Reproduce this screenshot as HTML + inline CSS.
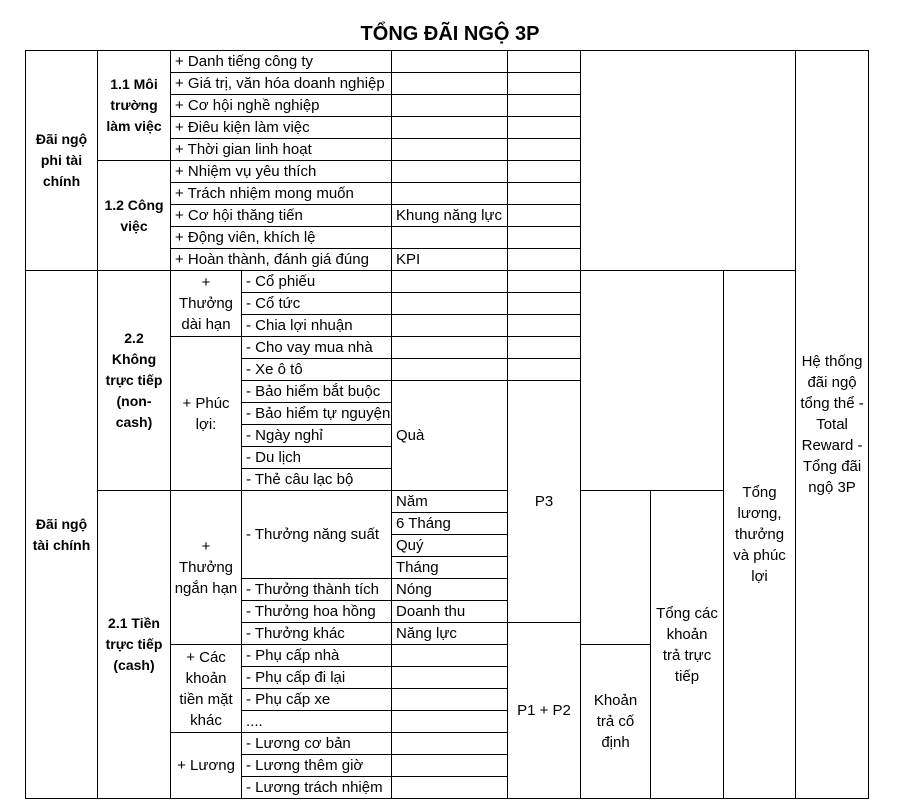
<!DOCTYPE html>
<html><head><meta charset="utf-8"><style>
body{margin:0;background:#fff;width:900px;height:812px;overflow:hidden;font-family:"Liberation Sans",sans-serif;}
h1{position:absolute;left:0;width:900px;top:21px;margin:0;text-align:center;font-size:20px;font-weight:bold;line-height:26px;}
table{position:absolute;left:25px;top:50px;border-collapse:collapse;table-layout:fixed;width:843px;font-size:15px;}
tr{height:22px;}
td{border:1px solid #000;padding:0 0 0 4px;height:21px;line-height:21px;white-space:nowrap;overflow:hidden;vertical-align:middle;}
td.c{text-align:center;padding:0;white-space:normal;line-height:21px;height:auto;}
td.b{font-weight:bold;font-size:14px;}
</style></head><body>
<h1>TỔNG ĐÃI NGỘ 3P</h1>
<table>
<colgroup><col style="width:72px"><col style="width:73px"><col style="width:71px"><col style="width:150px"><col style="width:116px"><col style="width:73px"><col style="width:70px"><col style="width:73px"><col style="width:72px"><col style="width:73px"></colgroup>
<tr><td class="c b" rowspan="10">Đãi ngộ<br>phi tài<br>chính</td><td class="c b" rowspan="5">1.1 Môi<br>trường<br>làm việc</td><td colspan="2">+ Danh tiếng công ty</td><td></td><td></td><td rowspan="10" colspan="3"></td><td class="c" rowspan="34">Hệ thống<br>đãi ngộ<br>tổng thể -<br>Total<br>Reward -<br>Tổng đãi<br>ngộ 3P</td></tr>
<tr><td colspan="2">+ Giá trị, văn hóa doanh nghiệp</td><td></td><td></td></tr>
<tr><td colspan="2">+ Cơ hội nghề nghiệp</td><td></td><td></td></tr>
<tr><td colspan="2">+ Điêu kiện làm việc</td><td></td><td></td></tr>
<tr><td colspan="2">+ Thời gian linh hoạt</td><td></td><td></td></tr>
<tr><td class="c b" rowspan="5">1.2 Công<br>việc</td><td colspan="2">+ Nhiệm vụ yêu thích</td><td></td><td></td></tr>
<tr><td colspan="2">+ Trách nhiệm mong muốn</td><td></td><td></td></tr>
<tr><td colspan="2">+ Cơ hội thăng tiến</td><td>Khung năng lực</td><td></td></tr>
<tr><td colspan="2">+ Động viên, khích lệ</td><td></td><td></td></tr>
<tr><td colspan="2">+ Hoàn thành, đánh giá đúng</td><td>KPI</td><td></td></tr>
<tr><td class="c b" rowspan="24">Đãi ngộ<br>tài chính</td><td class="c b" rowspan="10">2.2<br>Không<br>trực tiếp<br>(non-<br>cash)</td><td class="c" rowspan="3">+<br>Thưởng<br>dài hạn</td><td>- Cổ phiếu</td><td></td><td></td><td rowspan="10" colspan="2"></td><td class="c" rowspan="24">Tổng<br>lương,<br>thưởng<br>và phúc<br>lợi</td></tr>
<tr><td>- Cổ tức</td><td></td><td></td></tr>
<tr><td>- Chia lợi nhuận</td><td></td><td></td></tr>
<tr><td class="c" rowspan="7">+ Phúc<br>lợi:</td><td>- Cho vay mua nhà</td><td></td><td></td></tr>
<tr><td>- Xe ô tô</td><td></td><td></td></tr>
<tr><td>- Bảo hiểm bắt buộc</td><td rowspan="5">Quà</td><td class="c" rowspan="11">P3</td></tr>
<tr><td>- Bảo hiểm tự nguyện</td></tr>
<tr><td>- Ngày nghỉ</td></tr>
<tr><td>- Du lịch</td></tr>
<tr><td>- Thẻ câu lạc bộ</td></tr>
<tr><td class="c b" rowspan="14">2.1 Tiền<br>trực tiếp<br>(cash)</td><td class="c" rowspan="7">+<br>Thưởng<br>ngắn hạn</td><td rowspan="4" style="height:auto">- Thưởng năng suất</td><td>Năm</td><td rowspan="7" style="height:auto"></td><td class="c" rowspan="14">Tổng các<br>khoản<br>trả trực<br>tiếp</td></tr>
<tr><td>6 Tháng</td></tr>
<tr><td>Quý</td></tr>
<tr><td>Tháng</td></tr>
<tr><td>- Thưởng thành tích</td><td>Nóng</td></tr>
<tr><td>- Thưởng hoa hồng</td><td>Doanh thu</td></tr>
<tr><td>- Thưởng khác</td><td>Năng lực</td><td class="c" rowspan="8">P1 + P2</td></tr>
<tr><td class="c" rowspan="4">+ Các<br>khoản<br>tiền mặt<br>khác</td><td>- Phụ cấp nhà</td><td></td><td class="c" rowspan="7">Khoản<br>trả cố<br>định</td></tr>
<tr><td>- Phụ cấp đi lại</td><td></td></tr>
<tr><td>- Phụ cấp xe</td><td></td></tr>
<tr><td>....</td><td></td></tr>
<tr><td class="c" rowspan="3">+ Lương</td><td>- Lương cơ bản</td><td></td></tr>
<tr><td>- Lương thêm giờ</td><td></td></tr>
<tr><td>- Lương trách nhiệm</td><td></td></tr>
</table>
</body></html>
